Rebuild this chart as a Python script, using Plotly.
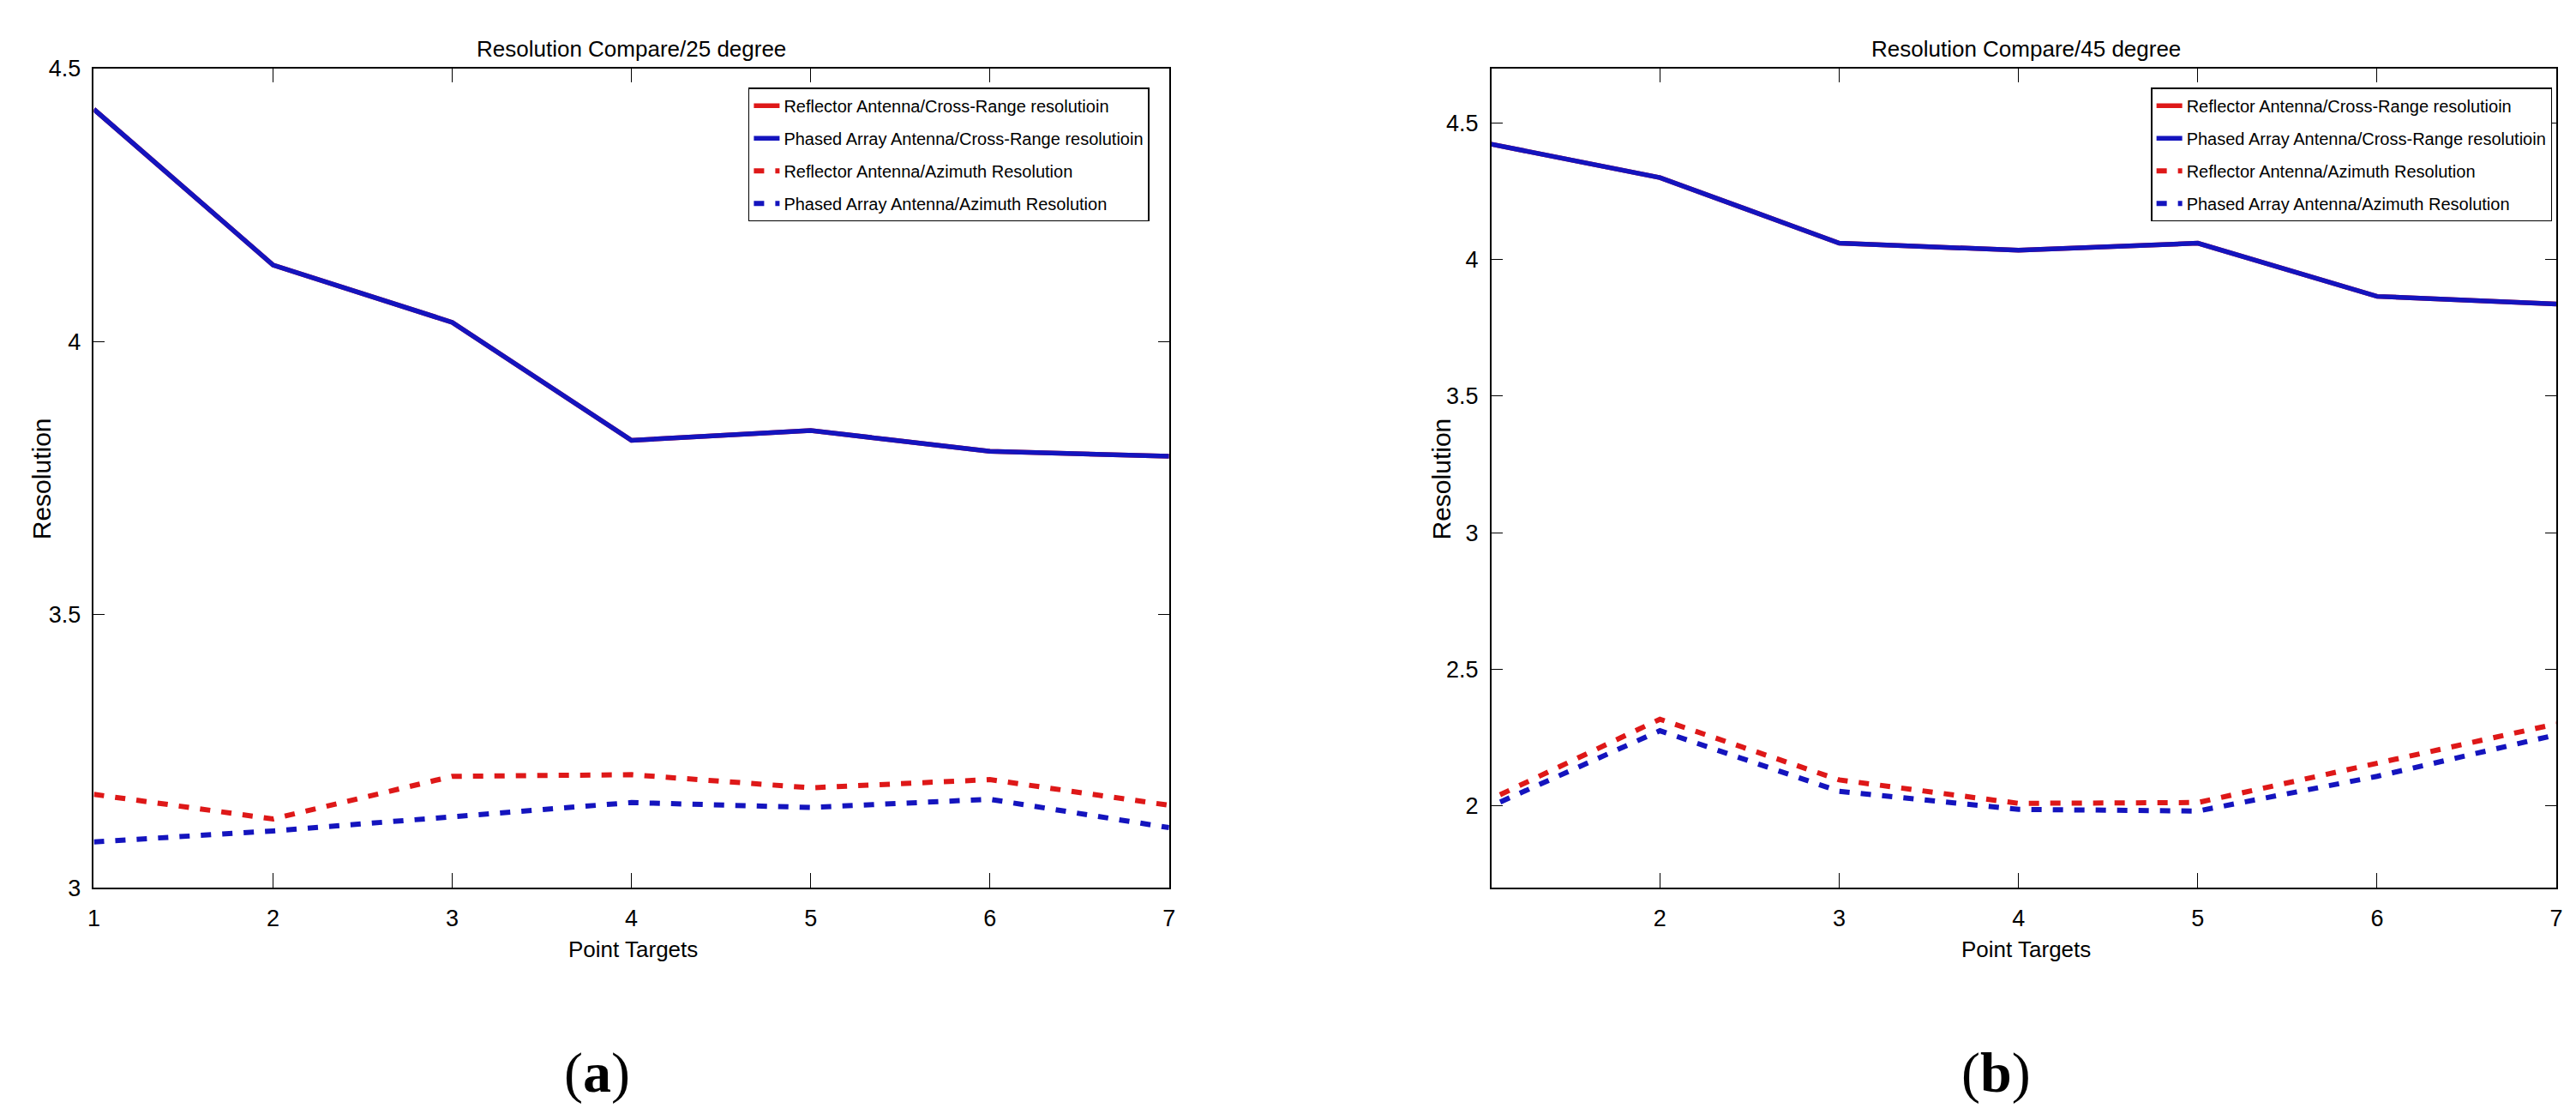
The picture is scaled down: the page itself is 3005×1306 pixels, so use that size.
import plotly.graph_objects as go

# point targets
targets = [1, 2, 3, 4, 5, 6, 7]

# 25 degree
reflector_cross_25 = [4.425, 4.14, 4.035, 3.819, 3.837, 3.799, 3.79]
phased_cross_25 = [4.425, 4.14, 4.035, 3.819, 3.837, 3.799, 3.79]
reflector_azim_25 = [3.171, 3.126, 3.204, 3.207, 3.183, 3.198, 3.151]
phased_azim_25 = [3.084, 3.104, 3.130, 3.156, 3.147, 3.162, 3.110]

# 45 degree
reflector_cross_45 = [4.43, 4.30, 4.06, 4.034, 4.06, 3.865, 3.837]
phased_cross_45 = [4.43, 4.30, 4.06, 4.034, 4.06, 3.865, 3.837]
reflector_azim_45 = [2.007, 2.317, 2.095, 2.009, 2.012, 2.157, 2.30]
phased_azim_45 = [1.982, 2.275, 2.053, 1.987, 1.981, 2.108, 2.26]

names = ['Reflector Antenna/Cross-Range resolutioin',
         'Phased Array Antenna/Cross-Range resolutioin',
         'Reflector Antenna/Azimuth Resolution',
         'Phased Array Antenna/Azimuth Resolution']

RED = 'rgb(222,24,24)'
BLUE = 'rgb(20,20,190)'
W, H = 3005, 1306
narrow = 'Liberation Sans Narrow, Arial Narrow, Liberation Sans, Arial'

fig = go.Figure()


def add_panel(series, xa, ya, legend):
    styles = [(RED, 'solid'), (BLUE, 'solid'), (RED, '12px,13px'), (BLUE, '12px,13px')]
    for i, (vals, (col, dash)) in enumerate(zip(series, styles)):
        fig.add_trace(go.Scatter(
            x=targets, y=vals, mode='lines', name=names[i],
            line=dict(color=col, width=6 if dash != 'solid' else 5.5, dash=dash),
            xaxis=xa, yaxis=ya, legend=legend, legendgroup=legend + str(i)))


add_panel([reflector_cross_25, phased_cross_25, reflector_azim_25, phased_azim_25], 'x', 'y', 'legend')
add_panel([reflector_cross_45, phased_cross_45, reflector_azim_45, phased_azim_45], 'x2', 'y2', 'legend2')

axis_style = dict(showline=True, linecolor='black', linewidth=1.5, mirror='allticks',
                  ticks='inside', tickcolor='black', tickwidth=1.2, showgrid=False,
                  zeroline=False, tickfont=dict(family=narrow, size=27, color='black'))

fig.update_layout(
    width=W, height=H,
    margin=dict(l=0, r=0, t=0, b=0),
    paper_bgcolor='white', plot_bgcolor='white',
    xaxis=dict(domain=[94 / W, 1355 / W], range=[1, 7], tickvals=targets, ticklen=17,
               ticklabelstandoff=11, anchor='y', **axis_style),
    yaxis=dict(domain=[1 - 1036 / H, 1 - 58 / H], range=[3, 4.5], tickvals=[3, 3.5, 4, 4.5],
               ticktext=['3', '3.5', '4', '4.5'], ticklen=13, ticklabelstandoff=8,
               anchor='x', **axis_style),
    xaxis2=dict(domain=[1733 / W, 2982 / W], range=[1.06, 7], tickvals=targets[1:], ticklen=17,
                ticklabelstandoff=11, anchor='y2', **axis_style),
    yaxis2=dict(domain=[1 - 1036 / H, 1 - 58 / H], range=[1.70, 4.70],
                tickvals=[2, 2.5, 3, 3.5, 4, 4.5], ticktext=['2', '2.5', '3', '3.5', '4', '4.5'],
                ticklen=13, ticklabelstandoff=8, anchor='x2', **axis_style),
    legend=dict(x=1332 / W, y=1 - 81 / H, xanchor='right', yanchor='top',
                bordercolor='black', borderwidth=1.5, bgcolor='white', tracegroupgap=9,
                font=dict(family=narrow, size=20, color='black')),
    legend2=dict(x=2977 / W, y=1 - 81 / H, xanchor='right', yanchor='top',
                 bordercolor='black', borderwidth=1.5, bgcolor='white', tracegroupgap=9,
                 font=dict(family=narrow, size=20, color='black')),
)

texts = [
    ('Resolution Compare/25 degree', 724, 35, 26, narrow, 0),
    ('Resolution Compare/45 degree', 2360, 35, 26, narrow, 0),
    ('Point Targets', 726, 1109, 26, narrow, 0),
    ('Point Targets', 2360, 1109, 26, narrow, 0),
    ('Resolution', 33, 548, 30, 'Liberation Sans, Arial', -90),
    ('Resolution', 1674, 548, 30, 'Liberation Sans, Arial', -90),
    ('(<b>a</b>)', 684, 1257, 66, 'Liberation Serif, Times New Roman', 0),
    ('(<b>b</b>)', 2325, 1257, 66, 'Liberation Serif, Times New Roman', 0),
]
for t, px, py, size, fam, ang in texts:
    fig.add_annotation(text=t, x=px / W, y=1 - py / H, xref='paper', yref='paper',
                       showarrow=False, xanchor='center', yanchor='middle', textangle=ang,
                       font=dict(family=fam, size=size, color='black'))

fig.write_html("out.html")
